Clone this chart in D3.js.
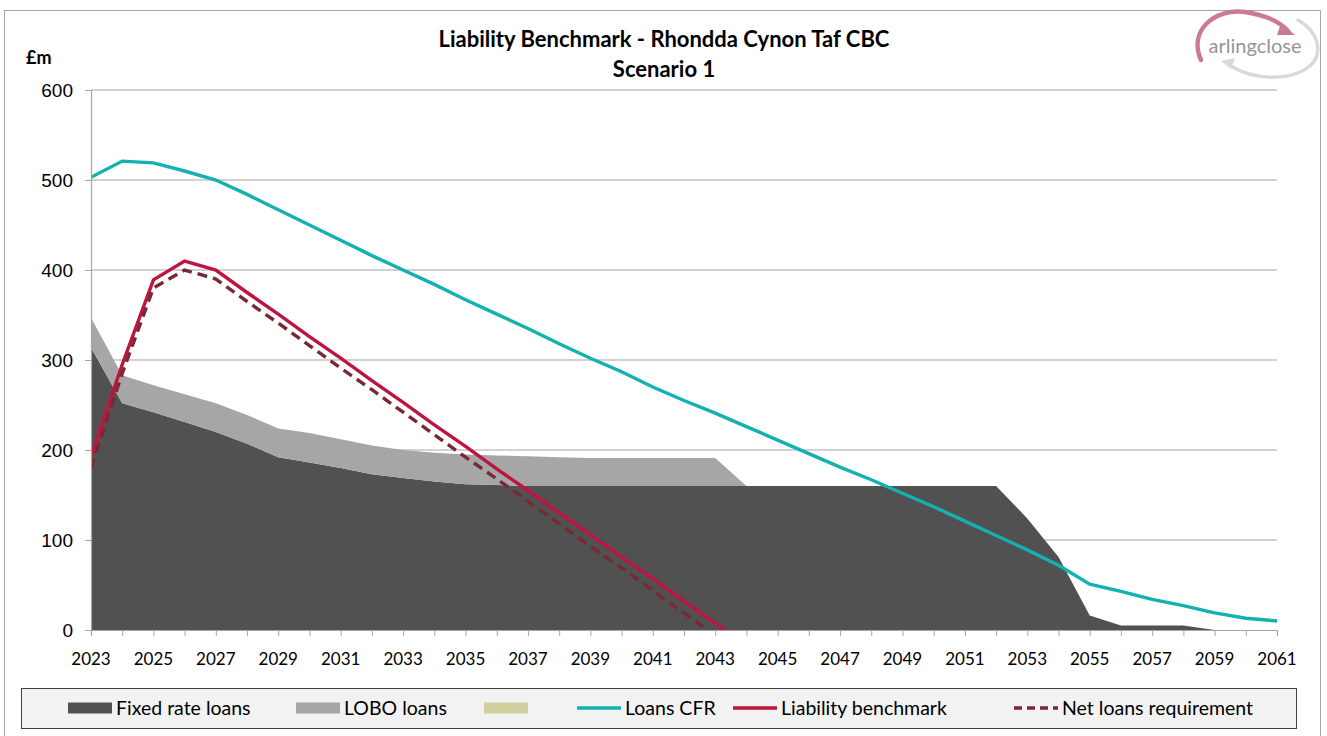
<!DOCTYPE html>
<html>
<head>
<meta charset="utf-8">
<script src="https://cdn.jsdelivr.net/npm/d3@7"></script>
<style>
  body { margin: 0; background: #fff; }
  svg { display: block; }
</style>
</head>
<body>
<div id="chart"></div>
<script>
// years on the x axis
const years = d3.range(2023, 2062);
const xTickLabels = d3.range(2023, 2062, 2);
const yTicks = [0, 100, 200, 300, 400, 500, 600];

// £m
const fixedRate = [314, 252, 242, 231, 220, 207, 192, 186, 180, 173, 169, 165, 162, 161,
  160, 160, 160, 160, 160, 160, 160, 160, 160, 160, 160, 160, 160, 160, 160, 160,
  124, 81, 16, 5, 5, 5, 0, 0, 0];
const lobo = [33, 31, 30, 31, 32, 32, 32, 33, 32, 32, 31, 32, 33, 33, 33, 32, 31, 31, 31, 31, 31,
  0, 0, 0, 0, 0, 0, 0, 0, 0, 0, 0, 0, 0, 0, 0, 0, 0, 0];
const loansCFR = [503, 521, 519, 510, 500, 484, 467, 450, 433, 416, 400, 384, 367, 351, 335,
  318, 302, 287, 270, 255, 241, 226, 211, 196, 181, 167, 152, 137, 121, 105, 89, 72, 51,
  43, 34, 27, 19, 13, 10];
const liabilityBenchmark = [193, 295, 389, 410, 400, 375, 351, 326, 302, 277, 253, 228, 204,
  179, 155, 130, 106, 81, 57, 32, 8, -17];
const netLoans = [180, 285, 380, 400, 390, 365, 341, 316, 291, 267, 242, 217, 192, 168, 143,
  118, 93, 69, 44, 19, -6];

const W = 1327, H = 736;
const margin = { top: 90, right: 50, bottom: 106, left: 91 };
const width = W - margin.left - margin.right;
const height = H - margin.top - margin.bottom;

const svg = d3.select("#chart").append("svg")
  .attr("width", W)
  .attr("height", H)
  .style("font-family", "Lato, 'Open Sans', sans-serif");

// outer frame
svg.append("rect")
  .attr("x", 4.5).attr("y", 10.5)
  .attr("width", 1316).attr("height", 760)
  .attr("fill", "none")
  .attr("stroke", "#a6a6a6");

// titles
svg.append("text")
  .attr("x", 664).attr("y", 47)
  .attr("text-anchor", "middle")
  .attr("font-weight", "bold")
  .attr("font-size", 22)
  .attr("fill", "#000")
  .text("Liability Benchmark - Rhondda Cynon Taf CBC");
svg.append("text")
  .attr("x", 664).attr("y", 77)
  .attr("text-anchor", "middle")
  .attr("font-weight", "bold")
  .attr("font-size", 22)
  .text("Scenario 1");
svg.append("text")
  .attr("x", 26).attr("y", 64)
  .attr("font-weight", "bold")
  .attr("font-size", 18)
  .text("£m");

// logo
const logo = svg.append("g");
logo.append("path")
  .attr("d", "M1201,60 C1188,30 1215,8 1245,12 C1265,15 1280,22 1288,31")
  .attr("fill", "none").attr("stroke", "#c97b92").attr("stroke-width", 4.5)
  .attr("stroke-linecap", "round");
logo.append("path")
  .attr("d", "M1281,23 L1295,35 L1277,35 Z").attr("fill", "#c97b92");
logo.append("path")
  .attr("d", "M1229,65 C1260,84 1305,80 1316,58 C1322,42 1312,28 1298,20")
  .attr("fill", "none").attr("stroke", "#d9d9d9").attr("stroke-width", 3.5)
  .attr("stroke-linecap", "round");
logo.append("path")
  .attr("d", "M1221,61 L1235,58 L1231,69 Z").attr("fill", "#d9d9d9");
logo.append("text")
  .attr("x", 1255).attr("y", 53)
  .attr("text-anchor", "middle")
  .attr("font-size", 20)
  .attr("fill", "#959595")
  .text("arlingclose");

const g = svg.append("g")
  .attr("transform", `translate(${margin.left},${margin.top})`);

const x = d3.scaleLinear().domain([2023, 2061]).range([0, width]);
const y = d3.scaleLinear().domain([0, 600]).range([height, 0]);

// gridlines
g.append("g")
  .selectAll("line")
  .data(yTicks.filter(d => d > 0))
  .join("line")
  .attr("x1", 0).attr("x2", width)
  .attr("y1", d => y(d)).attr("y2", d => y(d))
  .attr("stroke", "#a6a6a6")
  .attr("stroke-width", 1.2);

g.append("clipPath").attr("id", "plotclip")
  .append("rect").attr("width", width).attr("height", height);

// stacked areas
const rows = years.map((yr, i) => ({ year: yr, fixed: fixedRate[i], lobo: lobo[i] }));
const stack = d3.stack().keys(["fixed", "lobo"])(rows);
const areaColors = { fixed: "#515151", lobo: "#a6a6a6" };
const area = d3.area()
  .x(d => x(d.data.year))
  .y0(d => y(d[0]))
  .y1(d => y(d[1]));

g.append("g")
  .selectAll("path")
  .data(stack)
  .join("path")
  .attr("d", area)
  .attr("fill", d => areaColors[d.key]);

// lines
const line = d3.line()
  .x((d, i) => x(years[i]))
  .y(d => y(d));

const plotLines = g.append("g").attr("clip-path", "url(#plotclip)");
plotLines.append("path")
  .datum(loansCFR)
  .attr("d", line)
  .attr("fill", "none")
  .attr("stroke", "#14b1b1")
  .attr("stroke-width", 3.4);
plotLines.append("path")
  .datum(liabilityBenchmark)
  .attr("d", line)
  .attr("fill", "none")
  .attr("stroke", "#be1540")
  .attr("stroke-width", 3.4);
plotLines.append("path")
  .datum(netLoans)
  .attr("d", line)
  .attr("fill", "none")
  .attr("stroke", "#7a2832")
  .attr("stroke-width", 3.4)
  .attr("stroke-dasharray", "10,6");

// axes
const yAxis = g.append("g")
  .call(d3.axisLeft(y).tickValues(yTicks).tickSize(6).tickPadding(12));
yAxis.select(".domain").attr("stroke", "#a6a6a6").attr("stroke-width", 1.2);
yAxis.selectAll(".tick line").attr("stroke", "#a6a6a6");
yAxis.selectAll(".tick text")
  .attr("font-family", "'Liberation Sans', Arial, sans-serif")
  .attr("font-size", 19)
  .attr("fill", "#000");

const xAxis = g.append("g")
  .attr("transform", `translate(0,${height})`)
  .call(d3.axisBottom(x).tickValues(years).tickSize(6).tickFormat(""));
xAxis.select(".domain").attr("stroke", "#a6a6a6").attr("stroke-width", 1.2);
xAxis.selectAll(".tick line").attr("stroke", "#a6a6a6");

g.append("g")
  .selectAll("text")
  .data(xTickLabels)
  .join("text")
  .attr("x", d => x(d))
  .attr("y", height + 35)
  .attr("text-anchor", "middle")
  .attr("font-size", 17)
  .attr("fill", "#000")
  .text(d => d);

// legend
svg.append("rect")
  .attr("x", 21.5).attr("y", 688.5)
  .attr("width", 1275).attr("height", 40)
  .attr("fill", "#f2f2f2")
  .attr("stroke", "#404040");

const legendItems = [
  { label: "Fixed rate loans", type: "rect", color: "#515151", x: 68 },
  { label: "LOBO loans", type: "rect", color: "#a6a6a6", x: 296 },
  { label: "", type: "rect", color: "#d0d09e", x: 484 },
  { label: "Loans CFR", type: "line", color: "#14b1b1", x: 577 },
  { label: "Liability benchmark", type: "line", color: "#be1540", x: 733 },
  { label: "Net loans requirement", type: "dash", color: "#7a2832", x: 1014 }
];

const leg = svg.append("g")
  .selectAll("g")
  .data(legendItems)
  .join("g")
  .attr("transform", d => `translate(${d.x},708)`);

leg.filter(d => d.type === "rect")
  .append("rect")
  .attr("x", 0).attr("y", -5.5)
  .attr("width", 44).attr("height", 11)
  .attr("fill", d => d.color);

leg.filter(d => d.type !== "rect")
  .append("line")
  .attr("x1", 0).attr("x2", 44)
  .attr("stroke", d => d.color)
  .attr("stroke-width", 3.4)
  .attr("stroke-dasharray", d => d.type === "dash" ? "8,5" : null);

leg.append("text")
  .attr("x", 48)
  .attr("dy", "0.36em")
  .attr("font-size", 19.5)
  .attr("fill", "#000")
  .text(d => d.label);
</script>
</body>
</html>
